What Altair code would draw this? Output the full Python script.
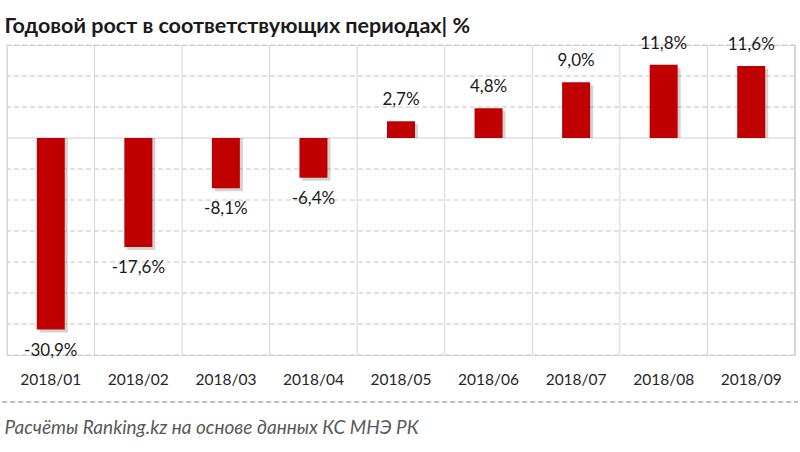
import altair as alt
import pandas as pd

categories = ["2018/01", "2018/02", "2018/03", "2018/04", "2018/05",
              "2018/06", "2018/07", "2018/08", "2018/09"]
values = [-30.9, -17.6, -8.1, -6.4, 2.7, 4.8, 9.0, 11.8, 11.6]
labels = [f"{v:.1f}".replace(".", ",") + "%" for v in values]
grid_values = [-35, -30, -25, -20, -15, -10, -5, 5, 10, 15]

title_text = "Годовой рост в соответствующих периодах| %"
source_text = "Расчёты Ranking.kz на основе данных КС МНЭ РК"

df = pd.DataFrame({"cat": categories, "val": values, "lab": labels})
gdf = pd.DataFrame({"g": grid_values})

W, H = 788, 310
FONT = "Lato"

xscale = alt.Scale(domain=categories, paddingInner=0, paddingOuter=0)
yscale = alt.Scale(domain=[-35, 15], nice=False, zero=False)

base = alt.Chart(df)

axis_layer = base.mark_bar(opacity=0).encode(
    x=alt.X("cat:N", scale=xscale, sort=categories,
            axis=alt.Axis(title=source_text, labelFont=FONT, labelFontSize=15.5,
                          labelColor="#262626", labelPadding=17, ticks=False,
                          domain=False, grid=False, labelAngle=0,
                          titleFont=FONT, titleFontSize=19, titleFontStyle="italic",
                          titleFontWeight="normal", titleColor="#595959",
                          titleAnchor="start", titleAlign="left", titleX=-3,
                          titleY=63)),
    y=alt.Y("val:Q", scale=yscale, axis=None),
)

grid_h = alt.Chart(gdf).mark_rule(color="#c4c4c4", strokeDash=[5, 3]).encode(
    y=alt.Y("g:Q", scale=yscale, axis=None)
)

sep = base.mark_rule(color="#d4d4d4", strokeWidth=1).encode(
    x=alt.X("cat:N", scale=xscale, sort=categories, bandPosition=0)
)
sep_right = base.mark_rule(color="#d4d4d4", strokeWidth=1).encode(
    x=alt.value(W)
)

zero = alt.Chart(pd.DataFrame({"z": [0]})).mark_rule(color="#cfcfcf").encode(
    y=alt.Y("z:Q", scale=yscale, axis=None)
)

shadow = base.mark_bar(size=28, xOffset=3, yOffset=3, color="#7f7f7f", opacity=0.35).encode(
    x=alt.X("cat:N", scale=xscale, sort=categories),
    y=alt.Y("val:Q", scale=yscale, axis=None),
    y2=alt.datum(0),
)

bars = base.mark_bar(size=28, color="#c00000").encode(
    x=alt.X("cat:N", scale=xscale, sort=categories),
    y=alt.Y("val:Q", scale=yscale, axis=None),
    y2=alt.datum(0),
)

lab_pos = base.transform_filter("datum.val >= 0").mark_text(
    font=FONT, fontSize=17, color="#1a1a1a", baseline="middle", dy=-21
).encode(
    x=alt.X("cat:N", scale=xscale, sort=categories),
    y=alt.Y("val:Q", scale=yscale, axis=None),
    text="lab:N",
)
lab_neg = base.transform_filter("datum.val < 0").mark_text(
    font=FONT, fontSize=17, color="#1a1a1a", baseline="middle", dy=21
).encode(
    x=alt.X("cat:N", scale=xscale, sort=categories),
    y=alt.Y("val:Q", scale=yscale, axis=None),
    text="lab:N",
)

sep_line = base.mark_rule(color="#bfbfbf", strokeDash=[5, 3]).encode(
    x=alt.value(-5), x2=alt.value(W + 3), y=alt.value(357)
)

chart = alt.layer(axis_layer, grid_h, sep, sep_right, zero, shadow, bars,
                  lab_pos, lab_neg, sep_line).properties(
    width=W, height=H,
    title=alt.Title(title_text, font=FONT, fontSize=21.5, fontWeight="bold",
                    color="#1a1a1a", anchor="start", offset=-3, dx=3),
    autosize=alt.AutoSizeParams(type="none"),
    padding={"left": 7, "top": 45, "right": 5, "bottom": 97},
).configure_view(stroke=None).configure(background="white")

chart.save("out.html", embed_options={"renderer": "svg", "actions": False})
